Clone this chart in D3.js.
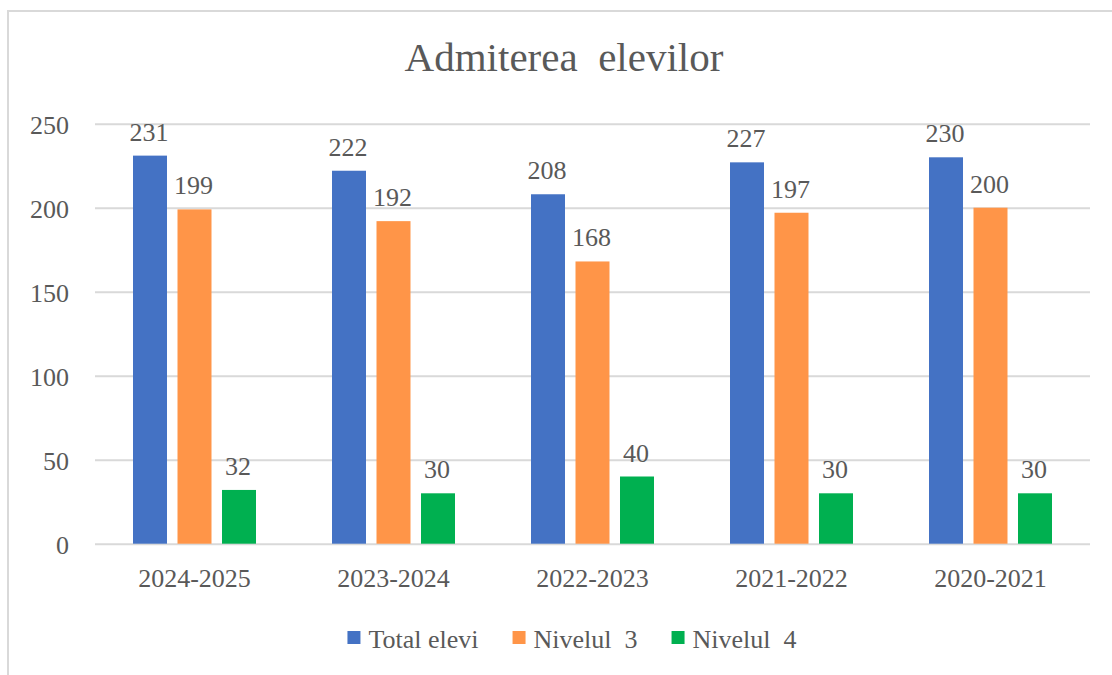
<!DOCTYPE html>
<html>
<head>
<meta charset="utf-8">
<script src="https://cdn.jsdelivr.net/npm/d3@7"></script>
<style>
  html, body { margin: 0; padding: 0; background: #fff; }
  svg { display: block; }
  text { font-family: "Liberation Serif", "Times New Roman", serif; fill: #595959; }
</style>
</head>
<body>
<div id="chart"></div>
<script>
// data
var categories = ["2024-2025", "2023-2024", "2022-2023", "2021-2022", "2020-2021"];
var seriesNames = ["Total elevi", "Nivelul  3", "Nivelul  4"];
var totalElevi = [231, 222, 208, 227, 230];
var nivelul3 = [199, 192, 168, 197, 200];
var nivelul4 = [32, 30, 40, 30, 30];
var yTicks = [0, 50, 100, 150, 200, 250];
var colors = ["#4472C4", "#FF9548", "#00B050"];

var seriesValues = [totalElevi, nivelul3, nivelul4];
var SERIF = '"Liberation Serif", "Times New Roman", serif';

var W = 1112, H = 675;
var svg = d3.select("#chart").append("svg")
  .attr("width", W)
  .attr("height", H)
  .attr("font-family", SERIF);

// outer chart frame (runs off the right / bottom of the picture)
svg.append("rect")
  .attr("x", 8).attr("y", 11)
  .attr("width", 1130).attr("height", 700)
  .attr("fill", "#fff")
  .attr("stroke", "#D9D9D9")
  .attr("stroke-width", 2);

var plot = {left: 95, right: 1090, top: 123.7, bottom: 543.7};

var x0 = d3.scaleBand()
  .domain(categories)
  .range([plot.left, plot.right])
  .padding(0);

var x1 = d3.scaleBand()
  .domain(seriesNames)
  .range([0, x0.bandwidth()])
  .paddingInner(0.236)
  .paddingOuter(0.854);

var y = d3.scaleLinear()
  .domain([0, 250])
  .range([plot.bottom, plot.top]);

// gridlines + y labels
var yAxis = svg.append("g")
  .attr("transform", "translate(" + plot.left + ",0)")
  .call(d3.axisLeft(y).tickValues(yTicks).tickSize(-(plot.right - plot.left)).tickPadding(26));
yAxis.attr("font-family", SERIF).attr("font-size", 26);
yAxis.select(".domain").remove();
yAxis.selectAll(".tick line")
  .attr("stroke", "#D9D9D9")
  .attr("stroke-width", 2);
yAxis.selectAll(".tick text")
  .attr("fill", "#595959")
  .attr("dy", "0.38em")
  .style("font-family", SERIF)
  .style("font-size", "26px");

// category labels
var xAxis = svg.append("g")
  .attr("transform", "translate(0," + plot.bottom + ")")
  .call(d3.axisBottom(x0).tickSize(0).tickPadding(0));
xAxis.attr("font-family", SERIF).attr("font-size", 26);
xAxis.select(".domain").remove();
xAxis.selectAll(".tick text")
  .attr("y", 43)
  .attr("dy", 0)
  .attr("fill", "#595959")
  .style("font-family", SERIF)
  .style("font-size", "26px");

// bars
var rows = categories.map(function(c, i) {
  return {cat: c, vals: seriesNames.map(function(s, j) { return {key: s, idx: j, value: seriesValues[j][i]}; })};
});

var groups = svg.selectAll(".group")
  .data(rows)
  .enter().append("g")
  .attr("class", "group")
  .attr("transform", function(d) { return "translate(" + x0(d.cat) + ",0)"; });

groups.selectAll("rect")
  .data(function(d) { return d.vals; })
  .enter().append("rect")
  .attr("x", function(d) { return x1(d.key); })
  .attr("y", function(d) { return y(d.value); })
  .attr("width", x1.bandwidth())
  .attr("height", function(d) { return y(0) - y(d.value); })
  .attr("fill", function(d) { return colors[d.idx]; });

groups.selectAll(".lbl")
  .data(function(d) { return d.vals; })
  .enter().append("text")
  .attr("class", "lbl")
  .attr("x", function(d) { return x1(d.key) + x1.bandwidth() / 2 - 1; })
  .attr("y", function(d) { return y(d.value) - 15; })
  .attr("text-anchor", "middle")
  .style("font-family", SERIF)
  .style("font-size", "26px")
  .text(function(d) { return d.value; });

// title
svg.append("text")
  .attr("x", 564)
  .attr("y", 71)
  .attr("text-anchor", "middle")
  .style("font-family", SERIF)
  .style("font-size", "41px")
  .style("white-space", "pre")
  .text("Admiterea  elevilor");

// legend
var legend = svg.append("g");
var lx = 0;
seriesNames.forEach(function(s, i) {
  var item = legend.append("g").attr("transform", "translate(" + lx + ",0)");
  item.append("rect")
    .attr("x", 0).attr("y", -17)
    .attr("width", 13).attr("height", 13)
    .attr("fill", colors[i]);
  var t = item.append("text")
    .attr("x", 21).attr("y", 0)
    .style("font-family", SERIF)
    .style("font-size", "26px")
    .style("white-space", "pre")
    .text(s);
  lx += 21 + t.node().getComputedTextLength() + 34;
});
var legendW = lx - 34;
legend.attr("transform", "translate(" + (572 - legendW / 2) + ",648)");
</script>
</body>
</html>
